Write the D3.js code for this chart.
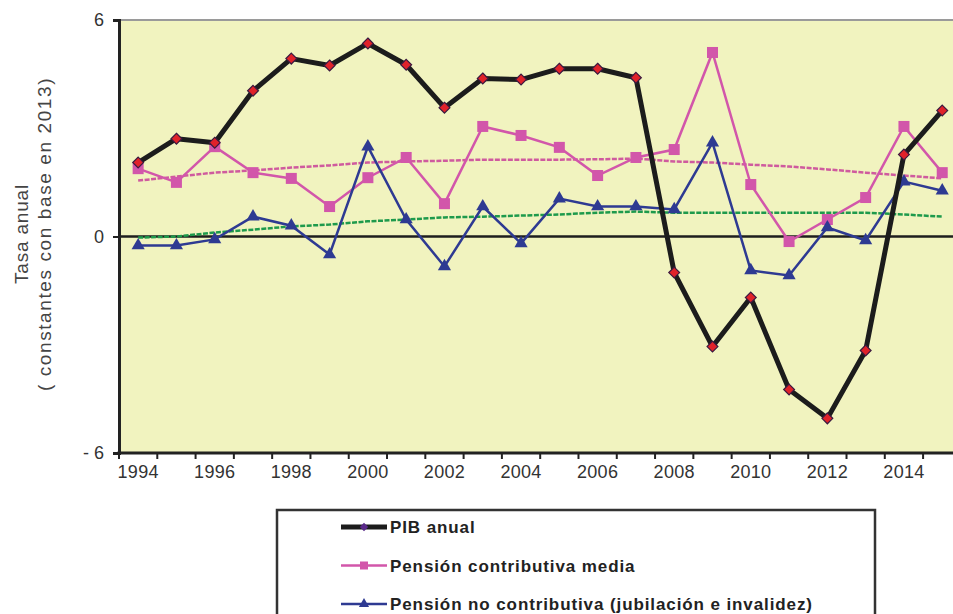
<!DOCTYPE html>
<html>
<head>
<meta charset="utf-8">
<script src="https://cdn.jsdelivr.net/npm/d3@7"></script>
<style>
  html, body { margin: 0; padding: 0; background: #ffffff; }
  svg { display: block; font-family: "Liberation Sans", Arial, sans-serif; }
</style>
</head>
<body>
<svg id="chart" width="953" height="614"></svg>
<script>
// Annual growth rates, 1994–2015
const years = d3.range(1994, 2016);
const tickYears = [1994, 1996, 1998, 2000, 2002, 2004, 2006, 2008, 2010, 2012, 2014];
const yTicks = [-6, 0, 6];

const pib = [2.05, 2.71, 2.60, 4.04, 4.93, 4.74, 5.35, 4.76, 3.57, 4.38, 4.35,
             4.65, 4.65, 4.40, -1.00, -3.05, -1.69, -4.24, -5.04, -3.16, 2.27, 3.49];
const pensionContributiva = [1.88, 1.50, 2.49, 1.77, 1.61, 0.83, 1.63, 2.19, 0.91, 3.05, 2.80,
             2.47, 1.69, 2.19, 2.41, 5.10, 1.44, -0.14, 0.47, 1.08, 3.05, 1.77];
const pensionNoContributiva = [-0.25, -0.25, -0.08, 0.55, 0.30, -0.50, 2.49, 0.47, -0.83, 0.83, -0.19,
             1.05, 0.83, 0.83, 0.75, 2.60, -0.94, -1.08, 0.25, -0.11, 1.52, 1.27];
// Cumulative average trends (dashed)
const tendContributiva = [1.55, 1.66, 1.77, 1.83, 1.91, 1.97, 2.05, 2.08, 2.10, 2.13, 2.13,
             2.13, 2.14, 2.16, 2.08, 2.05, 1.99, 1.94, 1.86, 1.77, 1.69, 1.61];
const tendNoContributiva = [-0.03, 0.00, 0.11, 0.19, 0.28, 0.33, 0.42, 0.47, 0.53, 0.55, 0.58,
             0.61, 0.66, 0.69, 0.66, 0.66, 0.66, 0.66, 0.66, 0.66, 0.61, 0.55];

const legendLabels = ["PIB anual", "Pensión contributiva media",
                      "Pensión no contributiva (jubilación e invalidez)"];

const svg = d3.select("#chart");
const plotLeft = 119, plotTop = 20, plotBottom = 453;
const step = 38.29;
const plotRight = plotLeft + step * years.length;

const x = d3.scaleBand().domain(years).range([plotLeft, plotRight]).paddingInner(0).paddingOuter(0);
const cx = d => x(d) + x.bandwidth() / 2;
const y = d3.scaleLinear().domain([-6, 6]).range([plotBottom, plotTop]);

// Plot background
svg.append("rect").attr("x", plotLeft).attr("y", plotTop)
  .attr("width", plotRight - plotLeft).attr("height", plotBottom - plotTop)
  .attr("fill", "#f1f3bf");
svg.append("line").attr("x1", plotLeft).attr("x2", plotRight).attr("y1", plotTop).attr("y2", plotTop)
  .attr("stroke", "#9a9a9a").attr("stroke-width", 2);

// Zero line
svg.append("line").attr("x1", plotLeft).attr("x2", plotRight).attr("y1", y(0)).attr("y2", y(0))
  .attr("stroke", "#1e1e1e").attr("stroke-width", 2.5);

// Y axis
const yAxis = d3.axisLeft(y).tickValues(yTicks).tickSize(6).tickPadding(9)
  .tickFormat(d => d < 0 ? "- " + Math.abs(d) : d);
const gy = svg.append("g").attr("transform", `translate(${plotLeft},0)`).call(yAxis);
gy.select(".domain").attr("stroke", "#222").attr("stroke-width", 3);
gy.selectAll(".tick line").attr("stroke", "#222").attr("stroke-width", 2);
gy.selectAll(".tick text").attr("fill", "#333").style("font-size", "18px");

// X axis: labels centred on categories, ticks at category boundaries
const xAxis = d3.axisBottom(x).tickValues(tickYears).tickSize(0).tickPadding(12);
const gx = svg.append("g").attr("transform", `translate(0,${plotBottom})`).call(xAxis);
gx.select(".domain").remove();
gx.selectAll(".tick text").attr("fill", "#333").style("font-size", "18px")
  .attr("letter-spacing", "0.3px");
svg.append("g").selectAll("line").data(years).join("line")
  .attr("x1", d => x(d)).attr("x2", d => x(d))
  .attr("y1", plotBottom).attr("y2", plotBottom + 6)
  .attr("stroke", "#222").attr("stroke-width", 2);
svg.append("line").attr("x1", plotLeft - 1.5).attr("x2", plotRight).attr("y1", plotBottom).attr("y2", plotBottom)
  .attr("stroke", "#222").attr("stroke-width", 3);

// Y axis title
const yt = svg.append("text")
  .attr("transform", "translate(0,234) rotate(-90)")
  .attr("text-anchor", "middle").attr("fill", "#444").style("font-size", "19px");
yt.append("tspan").attr("x", 0).attr("y", 28).attr("letter-spacing", "0.8px").text("Tasa anual");
yt.append("tspan").attr("x", 0).attr("y", 51).attr("letter-spacing", "1.6px")
  .text("( constantes con base en 2013)");

const line = d3.line().x((d, i) => cx(years[i])).y(d => y(d));

// Dashed trend lines
svg.append("path").datum(tendContributiva).attr("d", line)
  .attr("fill", "none").attr("stroke", "#cf5a9e").attr("stroke-width", 2.5)
  .attr("stroke-dasharray", "5,1.5");
svg.append("path").datum(tendNoContributiva).attr("d", line)
  .attr("fill", "none").attr("stroke", "#1e9a4c").attr("stroke-width", 2.5)
  .attr("stroke-dasharray", "5,1.5");

const pink = "#d256aa", blue = "#2e3a92";

// Pensión contributiva media
svg.append("path").datum(pensionContributiva).attr("d", line)
  .attr("fill", "none").attr("stroke", pink).attr("stroke-width", 2.5);
svg.append("g").selectAll("rect").data(pensionContributiva).join("rect")
  .attr("x", (d, i) => cx(years[i]) - 5.5).attr("y", d => y(d) - 5.5)
  .attr("width", 11).attr("height", 11).attr("fill", pink);

// Pensión no contributiva
svg.append("path").datum(pensionNoContributiva).attr("d", line)
  .attr("fill", "none").attr("stroke", blue).attr("stroke-width", 2.5);
const tri = d3.symbol().type(d3.symbolTriangle).size(75);
svg.append("g").selectAll("path").data(pensionNoContributiva).join("path")
  .attr("transform", (d, i) => `translate(${cx(years[i])},${y(d)})`)
  .attr("d", tri).attr("fill", blue);

// PIB anual
svg.append("path").datum(pib).attr("d", line)
  .attr("fill", "none").attr("stroke", "#1c1c1c").attr("stroke-width", 5)
  .attr("stroke-linejoin", "round");
const dia = d3.symbol().type(d3.symbolDiamond2).size(75);
svg.append("g").selectAll("path").data(pib).join("path")
  .attr("transform", (d, i) => `translate(${cx(years[i])},${y(d)})`)
  .attr("d", dia).attr("fill", "#e0222a").attr("stroke", "#3a1a40").attr("stroke-width", 1.2);

// Legend
svg.append("rect").attr("x", 277).attr("y", 510).attr("width", 598).attr("height", 140)
  .attr("fill", "#ffffff").attr("stroke", "#333").attr("stroke-width", 2.5);
const legendColors = ["#1c1c1c", pink, blue];
const legendWidths = [5, 2.5, 2.5];
const lg = svg.append("g").selectAll("g").data(legendLabels).join("g")
  .attr("transform", (d, i) => `translate(341,${527 + i * 38.5})`);
lg.append("line").attr("x1", 0).attr("x2", 46)
  .attr("stroke", (d, i) => legendColors[i]).attr("stroke-width", (d, i) => legendWidths[i]);
lg.each(function (d, i) {
  const g = d3.select(this);
  if (i === 0) g.append("path").attr("transform", "translate(23,0)")
    .attr("d", d3.symbol().type(d3.symbolDiamond2).size(45)).attr("fill", "#5a2a8a");
  if (i === 1) g.append("rect").attr("x", 19).attr("y", -4).attr("width", 8).attr("height", 8)
    .attr("fill", pink);
  if (i === 2) g.append("path").attr("transform", "translate(23,0)")
    .attr("d", d3.symbol().type(d3.symbolTriangle).size(45)).attr("fill", blue);
});
lg.append("text").attr("x", 49).attr("y", 6).text(d => d)
  .attr("fill", "#222").style("font-size", "17px").style("font-weight", "bold")
  .attr("letter-spacing", "0.9px");
</script>
</body>
</html>
